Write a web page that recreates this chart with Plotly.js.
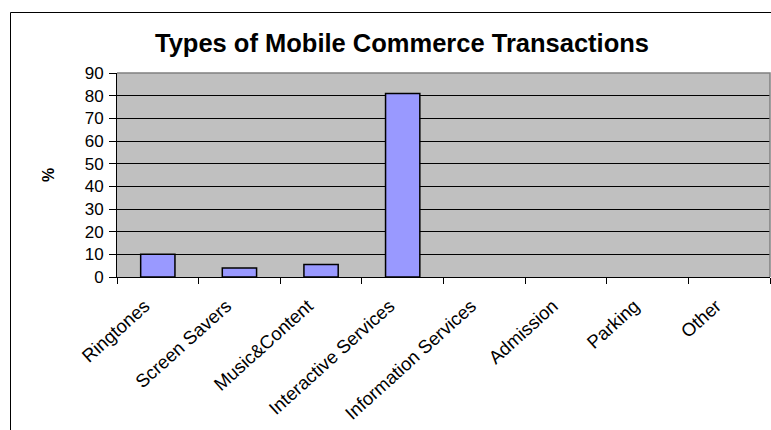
<!DOCTYPE html>
<html>
<head>
<meta charset="utf-8">
<script src="https://cdn.plot.ly/plotly-3.0.1.min.js"></script>
<style>
html,body{margin:0;padding:0;background:#fff;}
#chart{width:771px;height:430px;}
</style>
</head>
<body>
<div id="chart"></div>
<script>
var categories = ["Ringtones", "Screen Savers", "Music&Content", "Interactive Services", "Information Services", "Admission", "Parking", "Other"];
var percentValues = [10, 4, 5.5, 81, 0, 0, 0, 0];
var yTickValues = [0, 10, 20, 30, 40, 50, 60, 70, 80, 90];

var FONT = "Arial, 'Liberation Sans', sans-serif";
var mL = 117, mR = 1, mT = 73, mB = 153;
var W = 771, H = 430;
var pw = W - mL - mR, ph = H - mT - mB;
function px2x(px){ return (px - mL) / pw; }
function py2y(py){ return (H - mB - py) / ph; }

var trace = {
  type: "bar",
  x: categories,
  y: percentValues,
  marker: {
    color: "#9999ff",
    line: {color: "#000000", width: percentValues.map(function(v){ return v > 0 ? 1.5 : 0; })}
  },
  hoverinfo: "x+y"
};

var layout = {
  width: W, height: H,
  margin: {l: mL, r: mR, t: mT, b: mB, pad: 0},
  paper_bgcolor: "#ffffff",
  plot_bgcolor: "#c0c0c0",
  bargap: 0.58,
  showlegend: false,
  font: {family: FONT, color: "#000", size: 17},
  title: {
    text: "<b>Types of Mobile Commerce Transactions</b>",
    font: {family: FONT, size: 25.5, color: "#000"},
    xref: "container", yref: "container",
    x: 402 / W, xanchor: "center",
    y: 1 - 43 / H, yanchor: "middle"
  },
  xaxis: {
    type: "category",
    tickangle: -42,
    tickson: "boundaries",
    ticks: "outside", ticklen: 6, tickcolor: "#000", tickwidth: 1,
    ticklabelshift: -13,
    ticklabelstandoff: 10,
    showline: true, linecolor: "#000", linewidth: 1,
    showgrid: false, zeroline: false,
    tickfont: {family: FONT, size: 18.5, color: "#000"},
    fixedrange: true
  },
  yaxis: {
    range: [0, 90],
    tickvals: yTickValues,
    ticks: "outside", ticklen: 7, tickcolor: "#000", tickwidth: 1,
    ticklabelstandoff: 2,
    showline: true, linecolor: "#000", linewidth: 1,
    showgrid: true, gridcolor: "#000", gridwidth: 1,
    zeroline: false,
    tickfont: {family: FONT, size: 17, color: "#000"},
    title: {text: "<b>%</b>", font: {family: FONT, size: 16, color: "#000"}, standoff: 26},
    fixedrange: true
  },
  shapes: [
    {type: "path", xref: "paper", yref: "paper", path: "M0,1 L1,1 L1,0", line: {color: "#808080", width: 1.5}, layer: "above"},
    {type: "rect", xref: "paper", yref: "paper", x0: px2x(10.5), x1: px2x(900), y0: py2y(900), y1: py2y(12.5), line: {color: "#000", width: 1}, layer: "below"}
  ]
};

Plotly.newPlot("chart", [trace], layout, {displayModeBar: false, staticPlot: true});
</script>
</body>
</html>
